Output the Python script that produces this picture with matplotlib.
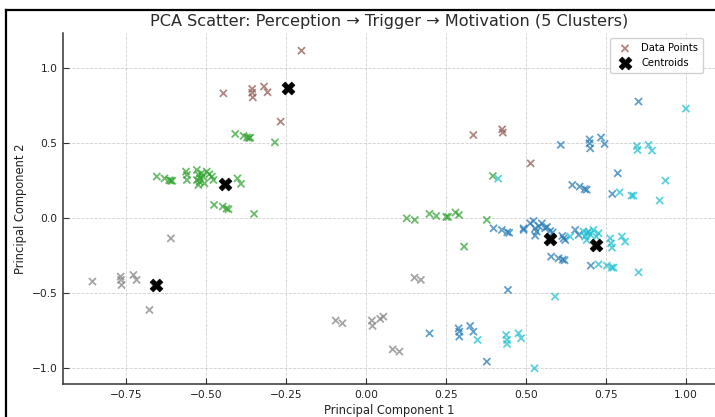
import matplotlib
matplotlib.use("Agg")
import matplotlib.pyplot as plt
from matplotlib.lines import Line2D
import numpy as np

# Cluster ids: 0 blue, 1 green, 2 brown, 3 gray, 4 cyan (tab10 over 0..4)
brown_x = [-0.446, -0.356, -0.356, -0.354, -0.319, -0.308, -0.267, -0.202, 0.335, 0.425, 0.427, 0.514]
brown_y = [0.831, 0.860, 0.835, 0.804, 0.876, 0.838, 0.642, 1.115, 0.553, 0.591, 0.569, 0.364]

green_x = [-0.409, -0.383, -0.372, -0.366, -0.362, -0.285,
           -0.654, -0.630, -0.615, -0.610, -0.606, -0.5625, -0.560, -0.560,
           -0.529, -0.524, -0.529, -0.524, -0.514, -0.519, -0.498, -0.490, -0.482, -0.477,
           -0.520, -0.510, -0.505, -0.402, -0.391,
           -0.475, -0.448, -0.436, -0.430, -0.350,
           0.127, 0.152, 0.198, 0.219, 0.250, 0.256, 0.279, 0.290, 0.306, 0.377, 0.396]
green_y = [0.560, 0.547, 0.537, 0.533, 0.535, 0.504,
           0.276, 0.264, 0.251, 0.249, 0.247, 0.309, 0.287, 0.253,
           0.320, 0.287, 0.253, 0.220, 0.298, 0.264, 0.309, 0.291, 0.276, 0.253,
           0.240, 0.275, 0.230, 0.264, 0.227,
           0.087, 0.076, 0.062, 0.058, 0.027,
           -0.002, -0.013, 0.027, 0.013, 0.007, 0.007, 0.036, 0.020, -0.191, -0.013, 0.280]

gray_x = [-0.855, -0.767, -0.766, -0.764, -0.727, -0.717, -0.677, -0.610,
          0.151, 0.171, -0.095, -0.074, 0.018, 0.020, 0.044, 0.054, 0.083, 0.104]
gray_y = [-0.424, -0.391, -0.413, -0.447, -0.380, -0.413, -0.613, -0.136,
          -0.398, -0.413, -0.684, -0.702, -0.684, -0.720, -0.673, -0.658, -0.876, -0.891]

blue_x = [0.398, 0.424, 0.441, 0.447, 0.492, 0.492, 0.5125, 0.523, 0.528, 0.533, 0.528,
          0.549, 0.559, 0.575, 0.583, 0.540, 0.565, 0.613, 0.617, 0.622, 0.653, 0.664,
          0.578, 0.601, 0.614, 0.620, 0.702, 0.443,
          0.198, 0.289, 0.291, 0.291, 0.325, 0.335, 0.377,
          0.608, 0.698, 0.698, 0.700, 0.734, 0.745, 0.851, 0.786,
          0.644, 0.667, 0.683, 0.689, 0.769]
blue_y = [-0.069, -0.080, -0.095, -0.099, -0.069, -0.080, -0.036, -0.020, -0.069, -0.091, -0.118,
          -0.036, -0.069, -0.087, -0.096, -0.055, -0.060, -0.120, -0.136, -0.147, -0.080, -0.113,
          -0.258, -0.269, -0.278, -0.282, -0.318, -0.480,
          -0.769, -0.736, -0.758, -0.791, -0.720, -0.758, -0.958,
          0.487, 0.524, 0.498, 0.464, 0.536, 0.493, 0.776, 0.298,
          0.220, 0.209, 0.192, 0.188, 0.160]

cyan_x = [0.4125, 0.6375, 0.679, 0.684, 0.689, 0.695, 0.710, 0.719, 0.726, 0.700, 0.690,
          0.7625, 0.765, 0.768, 0.799, 0.809,
          0.726, 0.752, 0.767, 0.773, 0.851, 0.590,
          0.348, 0.4375, 0.440, 0.440, 0.476, 0.484, 0.526,
          0.999, 0.792, 0.829, 0.835, 0.917, 0.935, 0.846, 0.848, 0.882, 0.893]
cyan_y = [0.262, -0.124, -0.091, -0.124, -0.147, -0.091, -0.080, -0.124, -0.102, -0.110, -0.100,
          -0.136, -0.169, -0.198, -0.124, -0.158,
          -0.309, -0.318, -0.331, -0.331, -0.362, -0.524,
          -0.813, -0.780, -0.813, -0.840, -0.769, -0.802, -1.002,
          0.729, 0.171, 0.149, 0.149, 0.116, 0.249, 0.480, 0.453, 0.487, 0.449]

centroid_x = [0.573, -0.440, -0.244, -0.657, 0.719]
centroid_y = [-0.140, 0.224, 0.867, -0.447, -0.180]

title = "PCA Scatter: Perception \u2192 Trigger \u2192 Motivation (5 Clusters)"

# order: brown first so legend handle takes its colour
groups = [(brown_x, brown_y, 2), (green_x, green_y, 1), (gray_x, gray_y, 3),
          (blue_x, blue_y, 0), (cyan_x, cyan_y, 4)]
pc1 = np.concatenate([np.array(g[0]) for g in groups])
pc2 = np.concatenate([np.array(g[1]) for g in groups])
labels = np.concatenate([np.full(len(g[0]), g[2]) for g in groups])

fig = plt.figure(figsize=(7.15, 4.17), dpi=100)
ax = fig.add_axes([63 / 715, (417 - 384) / 417, 653 / 715, 351 / 417])

ax.scatter(pc1, pc2, c=labels, cmap="tab10", vmin=0, vmax=4, marker="x",
           s=26, linewidths=1.3, alpha=0.7, label="Data Points")
ax.scatter(centroid_x, centroid_y, c="black", marker="X", s=85,
           linewidths=0.5, label="Centroids")

ax.set_xlim(-0.947, 1.093)
ax.set_ylim(-1.107, 1.233)
ax.set_xticks([-0.75, -0.5, -0.25, 0.0, 0.25, 0.5, 0.75, 1.0])
ax.set_yticks([-1.0, -0.5, 0.0, 0.5, 1.0])
ax.grid(True, linestyle="--", color="#d0d0d0", linewidth=0.6)
ax.set_axisbelow(True)
for s in ["top", "right"]:
    ax.spines[s].set_visible(False)
for s in ["left", "bottom"]:
    ax.spines[s].set_color("#333333")
    ax.spines[s].set_linewidth(1.1)
ax.tick_params(direction="in", length=4, width=0.8, colors="#333333",
               labelsize=7.7, labelcolor="#222222", pad=4)
ax.set_xlabel("Principal Component 1", fontsize=8.3, color="#222222", labelpad=3)
ax.set_ylabel("Principal Component 2", fontsize=8.3, color="#222222", labelpad=3)
ax.set_title(title, fontsize=11.6, color="#2a2a2a", pad=5)
ax.legend(loc="upper right", fontsize=7.2, frameon=True, framealpha=0.9,
          edgecolor="#cccccc", borderpad=0.5, handletextpad=0.6,
          bbox_to_anchor=(1 - 8 / 653, 1.0))

# screenshot frame lines (top and left)
fig.add_artist(Line2D([5.5 / 715, 1.0], [1 - 10 / 417, 1 - 10 / 417],
                      transform=fig.transFigure, color="black", linewidth=1.6))
fig.add_artist(Line2D([5.5 / 715, 5.5 / 715], [0.0, 1 - 10 / 417],
                      transform=fig.transFigure, color="black", linewidth=1.6))

fig.savefig("out.png", dpi=100)
